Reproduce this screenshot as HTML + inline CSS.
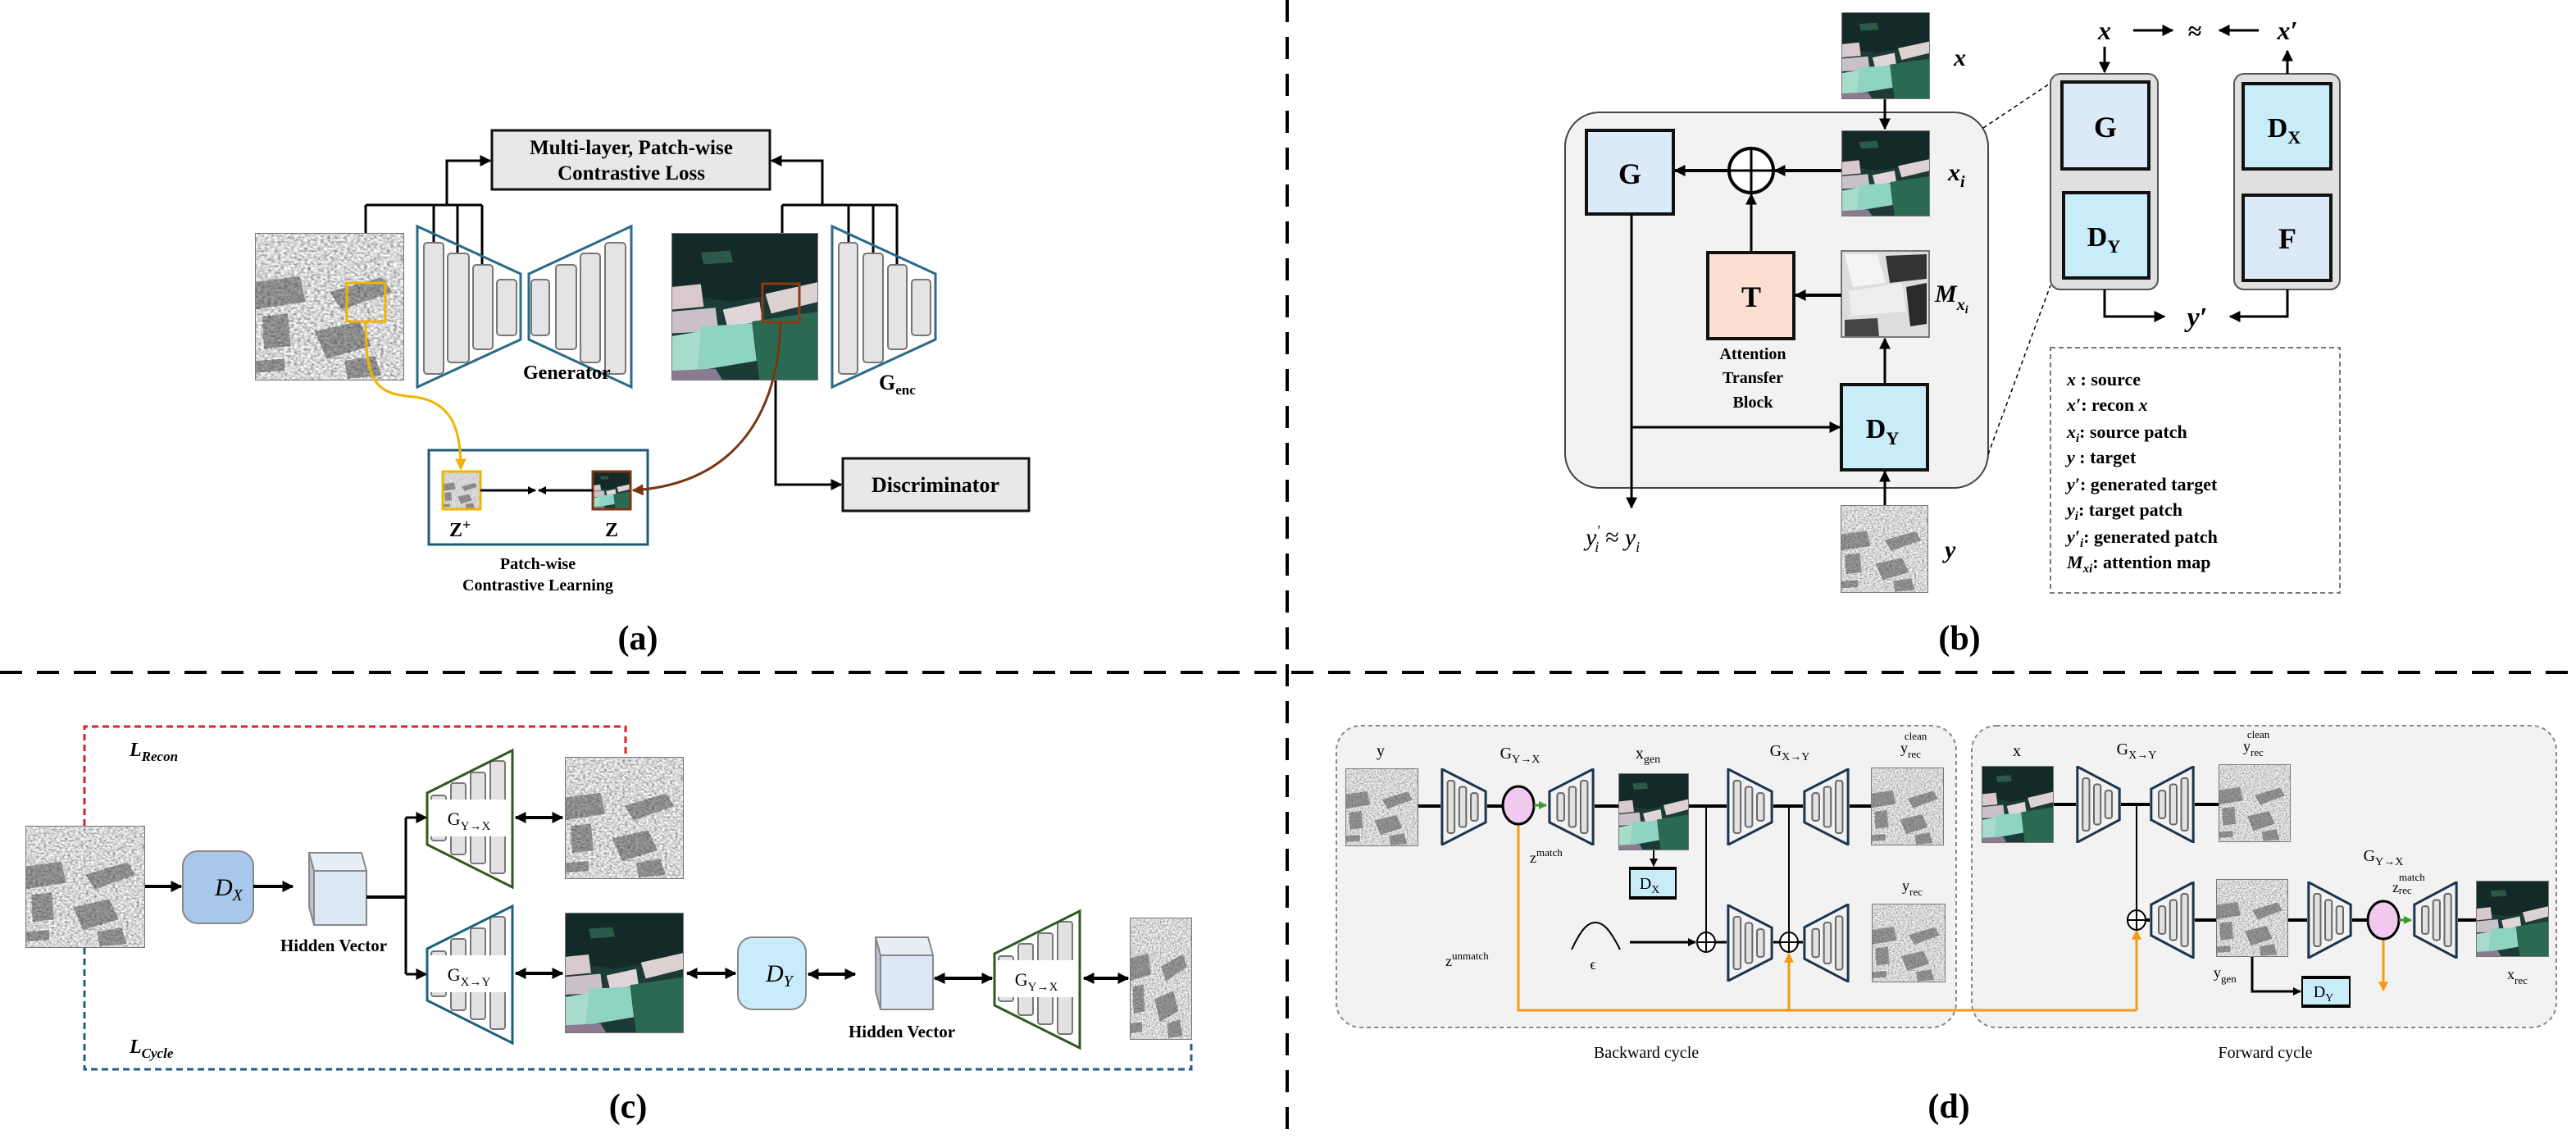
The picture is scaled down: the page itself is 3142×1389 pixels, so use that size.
<!DOCTYPE html>
<html><head><meta charset="utf-8"><style>
html,body{margin:0;padding:0;background:#fff}
svg{display:block}
text{font-family:"Liberation Serif",serif;fill:#000}
.b{font-weight:bold}
.i{font-style:italic}
</style></head><body>
<svg width="3142" height="1389" viewBox="0 0 3142 1389" xmlns="http://www.w3.org/2000/svg">
<defs>
<filter id="noise" x="0" y="0" width="1" height="1">
<feTurbulence type="fractalNoise" baseFrequency="0.45" numOctaves="2" seed="3" result="n"/>
<feColorMatrix type="matrix" values="1.35 0 0 0 0 1.35 0 0 0 0 1.35 0 0 0 0 0 0 0 0 1"/>
</filter>
<marker id="ah" viewBox="0 0 10 10" refX="9" refY="5" markerWidth="14" markerHeight="14" markerUnits="userSpaceOnUse" orient="auto-start-reverse"><path d="M0,0 L10,5 L0,10 z" fill="#000"/></marker>
<marker id="ahs" viewBox="0 0 10 10" refX="9" refY="5" markerWidth="10" markerHeight="10" markerUnits="userSpaceOnUse" orient="auto-start-reverse"><path d="M0,0 L10,5 L0,10 z" fill="#000"/></marker>
<marker id="aho" viewBox="0 0 10 10" refX="9" refY="5" markerWidth="12" markerHeight="12" markerUnits="userSpaceOnUse" orient="auto"><path d="M0,0 L10,5 L0,10 z" fill="#f39c12"/></marker>
<marker id="ahy" viewBox="0 0 10 10" refX="9" refY="5" markerWidth="14" markerHeight="14" markerUnits="userSpaceOnUse" orient="auto"><path d="M0,0 L10,5 L0,10 z" fill="#f0b400"/></marker>
<marker id="ahb" viewBox="0 0 10 10" refX="9" refY="5" markerWidth="14" markerHeight="14" markerUnits="userSpaceOnUse" orient="auto"><path d="M0,0 L10,5 L0,10 z" fill="#7a3510"/></marker>
<marker id="ahg" viewBox="0 0 10 10" refX="9" refY="5" markerWidth="10" markerHeight="10" markerUnits="userSpaceOnUse" orient="auto"><path d="M0,0 L10,5 L0,10 z" fill="#3a9a2a"/></marker>

<symbol id="sar" viewBox="0 0 100 150" preserveAspectRatio="none">
<rect width="100" height="150" fill="#999" filter="url(#noise)"/>
<g fill="#333" opacity="0.45">
<polygon points="0,50 30,44 34,70 0,78"/>
<polygon points="50,60 85,45 92,60 58,78"/>
<polygon points="5,85 22,82 24,115 6,118"/>
<polygon points="40,100 70,90 78,115 48,128"/>
<polygon points="0,130 20,128 20,140 0,142"/>
<polygon points="60,130 80,125 85,145 62,148"/>
</g>
<rect width="100" height="150" fill="none" stroke="#777" stroke-width="2" vector-effect="non-scaling-stroke"/>
</symbol>
<symbol id="opt" viewBox="0 0 100 150" preserveAspectRatio="none">
<rect width="100" height="150" fill="#1c3a36"/>
<polygon points="0,0 100,0 100,55 40,70 0,60" fill="#142a28"/>
<polygon points="0,55 20,52 22,75 0,78" fill="#d9c9cc"/>
<polygon points="0,80 30,76 32,100 0,102" fill="#c9c0c8"/>
<polygon points="35,78 60,70 62,90 38,95" fill="#e0d6d8"/>
<polygon points="64,62 100,50 100,70 68,82" fill="#ddd2d2"/>
<polygon points="20,95 55,92 58,130 18,140" fill="#8fd3c2"/>
<polygon points="0,105 20,100 18,140 0,142" fill="#a7dccc"/>
<polygon points="55,90 100,80 100,150 60,150" fill="#2a6a52"/>
<polygon points="20,20 40,18 42,30 22,32" fill="#2b5a48"/>
<polygon points="0,140 30,138 35,150 0,150" fill="#8c7a90"/>
<rect width="100" height="150" fill="none" stroke="#777" stroke-width="2" vector-effect="non-scaling-stroke"/>
</symbol>
<symbol id="encR" viewBox="0 0 60 100" preserveAspectRatio="none">
<polygon points="2,1 58,30 58,70 2,99" fill="none" stroke="#1a3550" stroke-width="3" vector-effect="non-scaling-stroke"/>
<rect x="9" y="16" width="9" height="68" rx="3" fill="#e2e2e2" stroke="#666" stroke-width="2" vector-effect="non-scaling-stroke"/>
<rect x="24" y="24" width="9" height="52" rx="3" fill="#e2e2e2" stroke="#666" stroke-width="2" vector-effect="non-scaling-stroke"/>
<rect x="39" y="32" width="9" height="36" rx="3" fill="#e2e2e2" stroke="#666" stroke-width="2" vector-effect="non-scaling-stroke"/>
</symbol>
<symbol id="decR" viewBox="0 0 60 100" preserveAspectRatio="none">
<g transform="translate(60,0) scale(-1,1)">
<polygon points="2,1 58,30 58,70 2,99" fill="none" stroke="#1a3550" stroke-width="3" vector-effect="non-scaling-stroke"/>
<rect x="9" y="16" width="9" height="68" rx="3" fill="#e2e2e2" stroke="#666" stroke-width="2" vector-effect="non-scaling-stroke"/>
<rect x="24" y="24" width="9" height="52" rx="3" fill="#e2e2e2" stroke="#666" stroke-width="2" vector-effect="non-scaling-stroke"/>
<rect x="39" y="32" width="9" height="36" rx="3" fill="#e2e2e2" stroke="#666" stroke-width="2" vector-effect="non-scaling-stroke"/>
</g>
</symbol>
<g id="ctrap">
<rect x="526" y="970" width="18" height="55" rx="3" fill="#e2e2e2" stroke="#777" stroke-width="2"/>
<rect x="550" y="955" width="18" height="87" rx="3" fill="#e2e2e2" stroke="#777" stroke-width="2"/>
<rect x="574" y="942" width="18" height="111" rx="3" fill="#e2e2e2" stroke="#777" stroke-width="2"/>
<rect x="598" y="928" width="18" height="137" rx="3" fill="#e2e2e2" stroke="#777" stroke-width="2"/>
<polygon points="521,967 625,915 625,1082 521,1030" fill="none" stroke="currentColor" stroke-width="3"/>
<rect x="524" y="975" width="96" height="45" fill="#fff"/>
</g>
<g id="cube">
<polygon points="0,0 64,0 70,22 6,22" fill="#e8eef6" stroke="#888" stroke-width="2"/>
<polygon points="0,0 6,22 6,88 0,66" fill="#b9c2cc" stroke="#888" stroke-width="2"/>
<rect x="6" y="22" width="64" height="66" fill="#dce8f5" stroke="#888" stroke-width="2"/>
</g>
</defs>

<!-- dividers -->
<line x1="1570" y1="0" x2="1570" y2="1389" stroke="#000" stroke-width="4" stroke-dasharray="27 18"/>
<line x1="0" y1="820" x2="3142" y2="820" stroke="#000" stroke-width="4" stroke-dasharray="27 18"/>

<!-- ============ (a) ============ -->
<rect x="600" y="159" width="339" height="72" fill="#e8e8e8" stroke="#111" stroke-width="3"/>
<text x="770" y="188" font-size="25" class="b" text-anchor="middle">Multi-layer, Patch-wise</text>
<text x="770" y="219" font-size="25" class="b" text-anchor="middle">Contrastive Loss</text>
<g stroke="#000" stroke-width="3" fill="none">
<polyline points="545,250 545,196 598,196" marker-end="url(#ah)"/>
<line x1="446" y1="250" x2="588" y2="250"/>
<line x1="446" y1="250" x2="446" y2="284"/>
<line x1="529" y1="250" x2="529" y2="296"/>
<line x1="558" y1="250" x2="558" y2="309"/>
<line x1="588" y1="250" x2="588" y2="323"/>
<polyline points="1003,250 1003,196 941,196" marker-end="url(#ah)"/>
<line x1="954" y1="250" x2="1094" y2="250"/>
<line x1="954" y1="250" x2="954" y2="284"/>
<line x1="1035" y1="250" x2="1035" y2="296"/>
<line x1="1065" y1="250" x2="1065" y2="309"/>
<line x1="1094" y1="250" x2="1094" y2="323"/>
</g>
<use href="#sar" x="311" y="284" width="182" height="180"/>
<rect x="423" y="345" width="47" height="47" fill="none" stroke="#f0b400" stroke-width="3"/>
<g fill="#e4e4e4" stroke="#777" stroke-width="2">
<rect x="517" y="296" width="24" height="160" rx="4"/>
<rect x="546" y="309" width="26" height="133" rx="4"/>
<rect x="577" y="323" width="24" height="103" rx="4"/>
<rect x="606" y="341" width="24" height="68" rx="4"/>
<rect x="648" y="341" width="22" height="68" rx="4"/>
<rect x="678" y="323" width="25" height="103" rx="4"/>
<rect x="708" y="309" width="24" height="133" rx="4"/>
<rect x="738" y="296" width="25" height="160" rx="4"/>
<rect x="1023" y="296" width="23" height="160" rx="4"/>
<rect x="1053" y="309" width="24" height="133" rx="4"/>
<rect x="1083" y="323" width="23" height="103" rx="4"/>
<rect x="1112" y="341" width="23" height="68" rx="4"/>
</g>
<g fill="none" stroke="#2a6a8a" stroke-width="3">
<polygon points="509,276 635,334 635,414 509,472"/>
<polygon points="770,276 645,334 645,414 770,472"/>
<polygon points="1015,276 1141,334 1141,414 1015,472"/>
</g>
<text x="638" y="462" font-size="24" class="b">Generator</text>
<text x="1072" y="475" font-size="26" class="b">G<tspan font-size="17" dy="6">enc</tspan></text>
<use href="#opt" x="819" y="284" width="179" height="180"/>
<rect x="930" y="346" width="45" height="47" fill="none" stroke="#8a3a12" stroke-width="3"/>
<polyline points="946,464 946,591 1026,591" fill="none" stroke="#000" stroke-width="3" marker-end="url(#ah)"/>
<rect x="1028" y="559" width="227" height="64" fill="#e8e8e8" stroke="#111" stroke-width="3"/>
<text x="1141" y="600" font-size="26" class="b" text-anchor="middle">Discriminator</text>
<rect x="523" y="549" width="267" height="115" fill="#fff" stroke="#1f5b73" stroke-width="3"/>
<use href="#sar" x="540" y="575" width="46" height="46"/>
<rect x="540" y="575" width="46" height="46" fill="none" stroke="#f0b400" stroke-width="3"/>
<use href="#opt" x="723" y="575" width="46" height="46"/>
<rect x="723" y="575" width="46" height="46" fill="none" stroke="#7a3510" stroke-width="3"/>
<line x1="586" y1="598" x2="653" y2="598" stroke="#000" stroke-width="3" marker-end="url(#ahs)"/>
<line x1="723" y1="598" x2="657" y2="598" stroke="#000" stroke-width="3" marker-end="url(#ahs)"/>
<text x="548" y="654" font-size="24" class="b">Z<tspan dy="-8" font-size="18">+</tspan></text>
<text x="738" y="654" font-size="24" class="b">Z</text>
<text x="656" y="694" font-size="20" class="b" text-anchor="middle">Patch-wise</text>
<text x="656" y="720" font-size="20" class="b" text-anchor="middle">Contrastive Learning</text>
<path d="M446,392 C446,470 460,480 505,484 C555,490 562,530 562,572" fill="none" stroke="#f0b400" stroke-width="3" marker-end="url(#ahy)"/>
<path d="M952,393 C950,500 900,590 772,598" fill="none" stroke="#7a3510" stroke-width="3" marker-end="url(#ahb)"/>
<text x="778" y="792" font-size="42" class="b" text-anchor="middle">(a)</text>

<!-- ============ (b) ============ -->
<rect x="1909" y="137" width="516" height="458" rx="42" fill="#f2f2f2" stroke="#444" stroke-width="2"/>
<use href="#opt" x="2246" y="15" width="108" height="106"/>
<text x="2383" y="80" font-size="30" class="b i">x</text>
<line x1="2299" y1="121" x2="2299" y2="157" stroke="#000" stroke-width="3" marker-end="url(#ah)"/>
<rect x="1935" y="159" width="106" height="102" fill="#dce9f7" stroke="#111" stroke-width="4"/>
<text x="1988" y="224" font-size="36" class="b" text-anchor="middle">G</text>
<use href="#opt" x="2246" y="159" width="108" height="105"/>
<text x="2376" y="220" font-size="30" class="b i">x<tspan font-size="20" dy="8">i</tspan></text>
<circle cx="2136" cy="208" r="27" fill="#fff" stroke="#000" stroke-width="4"/>
<line x1="2109" y1="208" x2="2163" y2="208" stroke="#000" stroke-width="3"/>
<line x1="2136" y1="181" x2="2136" y2="235" stroke="#000" stroke-width="3"/>
<line x1="2246" y1="208" x2="2165" y2="208" stroke="#000" stroke-width="4" marker-end="url(#ah)"/>
<line x1="2108" y1="208" x2="2043" y2="208" stroke="#000" stroke-width="4" marker-end="url(#ah)"/>
<rect x="2083" y="308" width="105" height="105" fill="#fbe0d2" stroke="#111" stroke-width="4"/>
<text x="2136" y="374" font-size="36" class="b" text-anchor="middle">T</text>
<line x1="2136" y1="308" x2="2136" y2="237" stroke="#000" stroke-width="3" marker-end="url(#ah)"/>
<g>
<rect x="2246" y="306" width="107" height="105" fill="#ddd" stroke="#777" stroke-width="2"/>
<polygon points="2250,310 2290,310 2300,345 2260,350" fill="#f4f4f4"/>
<polygon points="2300,312 2350,310 2350,340 2305,345" fill="#333"/>
<polygon points="2255,355 2320,345 2325,380 2258,385" fill="#eee"/>
<polygon points="2325,350 2350,345 2350,395 2330,398" fill="#2a2a2a"/>
<polygon points="2250,390 2290,388 2292,410 2250,410" fill="#444"/>
</g>
<text x="2360" y="368" font-size="30" class="b i">M<tspan font-size="20" dy="10">x<tspan font-size="14" dy="4">i</tspan></tspan></text>
<line x1="2246" y1="360" x2="2190" y2="360" stroke="#000" stroke-width="4" marker-end="url(#ah)"/>
<text x="2138" y="438" font-size="20" class="b" text-anchor="middle">Attention</text>
<text x="2138" y="467" font-size="20" class="b" text-anchor="middle">Transfer</text>
<text x="2138" y="497" font-size="20" class="b" text-anchor="middle">Block</text>
<rect x="2246" y="469" width="105" height="104" fill="#c9ecf9" stroke="#111" stroke-width="4"/>
<text x="2296" y="534" font-size="34" class="b" text-anchor="middle">D<tspan font-size="22" dy="8">Y</tspan></text>
<line x1="2299" y1="469" x2="2299" y2="413" stroke="#000" stroke-width="3" marker-end="url(#ah)"/>
<polyline points="1990,261 1990,619" fill="none" stroke="#000" stroke-width="3" marker-end="url(#ah)"/>
<line x1="1990" y1="521" x2="2244" y2="521" stroke="#000" stroke-width="3" marker-end="url(#ah)"/>
<use href="#sar" x="2245" y="616" width="107" height="107"/>
<line x1="2299" y1="616" x2="2299" y2="575" stroke="#000" stroke-width="3" marker-end="url(#ah)"/>
<text x="2372" y="680" font-size="30" class="b i">y</text>
<text x="1934" y="665" font-size="30" class="i">y<tspan font-size="18" dy="-12">′</tspan><tspan font-size="18" dy="20" dx="-6">i</tspan><tspan dy="-8"> ≈ y</tspan><tspan font-size="18" dy="8">i</tspan></text>

<line x1="2419" y1="156" x2="2503" y2="100" stroke="#000" stroke-width="1.5" stroke-dasharray="5 4"/>
<line x1="2425" y1="554" x2="2501" y2="348" stroke="#000" stroke-width="1.5" stroke-dasharray="5 4"/>
<rect x="2501" y="90" width="131" height="263" rx="12" fill="#e0e0e0" stroke="#555" stroke-width="2"/>
<rect x="2515" y="100" width="106" height="106" fill="#dce9f7" stroke="#111" stroke-width="4"/>
<text x="2568" y="167" font-size="36" class="b" text-anchor="middle">G</text>
<rect x="2517" y="235" width="104" height="104" fill="#c9ecf9" stroke="#111" stroke-width="4"/>
<text x="2566" y="300" font-size="34" class="b" text-anchor="middle">D<tspan font-size="22" dy="8">Y</tspan></text>
<rect x="2725" y="90" width="129" height="263" rx="12" fill="#e0e0e0" stroke="#555" stroke-width="2"/>
<rect x="2736" y="102" width="107" height="104" fill="#c9ecf9" stroke="#111" stroke-width="4"/>
<text x="2786" y="167" font-size="34" class="b" text-anchor="middle">D<tspan font-size="22" dy="8">X</tspan></text>
<rect x="2736" y="238" width="107" height="104" fill="#dce9f7" stroke="#111" stroke-width="4"/>
<text x="2790" y="303" font-size="36" class="b" text-anchor="middle">F</text>
<text x="2567" y="48" font-size="32" class="b i" text-anchor="middle">x</text>
<text x="2677" y="48" font-size="30" class="b" text-anchor="middle">≈</text>
<text x="2790" y="48" font-size="32" class="b i" text-anchor="middle">x′</text>
<line x1="2602" y1="37" x2="2650" y2="37" stroke="#000" stroke-width="3" marker-end="url(#ah)"/>
<line x1="2755" y1="37" x2="2707" y2="37" stroke="#000" stroke-width="3" marker-end="url(#ah)"/>
<line x1="2567" y1="57" x2="2567" y2="88" stroke="#000" stroke-width="3" marker-end="url(#ah)"/>
<line x1="2790" y1="90" x2="2790" y2="62" stroke="#000" stroke-width="3" marker-end="url(#ah)"/>
<polyline points="2567,353 2567,386 2640,386" fill="none" stroke="#000" stroke-width="3" marker-end="url(#ah)"/>
<polyline points="2790,353 2790,386 2720,386" fill="none" stroke="#000" stroke-width="3" marker-end="url(#ah)"/>
<text x="2680" y="398" font-size="34" class="b i" text-anchor="middle">y′</text>
<rect x="2501" y="424" width="353" height="299" fill="#fff" stroke="#777" stroke-width="2" stroke-dasharray="6 4"/>
<g font-size="22" class="b">
<text x="2521" y="470"><tspan class="i">x</tspan> : source</text>
<text x="2521" y="501"><tspan class="i">x′</tspan>: recon <tspan class="i">x</tspan></text>
<text x="2521" y="534"><tspan class="i">x<tspan font-size="15" dy="5">i</tspan></tspan><tspan dy="-5">: source patch</tspan></text>
<text x="2521" y="565"><tspan class="i">y</tspan> : target</text>
<text x="2521" y="598"><tspan class="i">y′</tspan>: generated target</text>
<text x="2521" y="629"><tspan class="i">y<tspan font-size="15" dy="5">i</tspan></tspan><tspan dy="-5">: target patch</tspan></text>
<text x="2521" y="662"><tspan class="i">y′<tspan font-size="15" dy="5">i</tspan></tspan><tspan dy="-5">: generated patch</tspan></text>
<text x="2521" y="693"><tspan class="i">M<tspan font-size="15" dy="5">xi</tspan></tspan><tspan dy="-5">: attention map</tspan></text>
</g>
<text x="2390" y="792" font-size="42" class="b" text-anchor="middle">(b)</text>

<!-- ============ (c) ============ -->
<polyline points="103,1007 103,886 763,886 763,923" fill="none" stroke="#e02020" stroke-width="3" stroke-dasharray="8 5"/>
<polyline points="103,1156 103,1304 1453,1304 1453,1268" fill="none" stroke="#1f5f7f" stroke-width="3" stroke-dasharray="8 5"/>
<text x="158" y="922" font-size="24" class="b i">L<tspan font-size="17" dy="6">Recon</tspan></text>
<text x="158" y="1284" font-size="24" class="b i">L<tspan font-size="17" dy="6">Cycle</tspan></text>
<use href="#sar" x="31" y="1007" width="146" height="149"/>
<rect x="223" y="1038" width="86" height="88" rx="18" fill="#a7c8ea" stroke="#888" stroke-width="2"/>
<text x="262" y="1092" font-size="30" class="i">D<tspan font-size="20" dy="6">X</tspan></text>
<line x1="177" y1="1081" x2="221" y2="1081" stroke="#000" stroke-width="4" marker-end="url(#ah)"/>
<line x1="309" y1="1081" x2="357" y2="1081" stroke="#000" stroke-width="4" marker-end="url(#ah)"/>
<use href="#cube" x="377" y="1040"/>
<text x="407" y="1160" font-size="21" class="b" text-anchor="middle">Hidden Vector</text>
<line x1="447" y1="1094" x2="495" y2="1094" stroke="#000" stroke-width="4"/>
<line x1="495" y1="997" x2="495" y2="1188" stroke="#000" stroke-width="3"/>
<line x1="495" y1="997" x2="520" y2="997" stroke="#000" stroke-width="3" marker-end="url(#ah)"/>
<line x1="495" y1="1188" x2="520" y2="1188" stroke="#000" stroke-width="3" marker-end="url(#ah)"/>
<use href="#ctrap" color="#2e5a1c"/>
<text x="572" y="1006" font-size="22" text-anchor="middle">G<tspan font-size="15" dy="6">Y→X</tspan></text>
<use href="#ctrap" color="#1f5f7f" transform="translate(0,190)"/>
<text x="572" y="1196" font-size="22" text-anchor="middle">G<tspan font-size="15" dy="6">X→Y</tspan></text>
<use href="#ctrap" color="#2e5a1c" transform="translate(692,196)"/>
<text x="1264" y="1202" font-size="22" text-anchor="middle">G<tspan font-size="15" dy="6">Y→X</tspan></text>
<g stroke="#000" stroke-width="4">
<line x1="629" y1="997" x2="686" y2="997" marker-start="url(#ah)" marker-end="url(#ah)"/>
<line x1="629" y1="1187" x2="686" y2="1187" marker-start="url(#ah)" marker-end="url(#ah)"/>
<line x1="838" y1="1187" x2="897" y2="1187" marker-start="url(#ah)" marker-end="url(#ah)"/>
<line x1="986" y1="1188" x2="1043" y2="1188" marker-start="url(#ah)" marker-end="url(#ah)"/>
<line x1="1140" y1="1193" x2="1210" y2="1193" marker-start="url(#ah)" marker-end="url(#ah)"/>
<line x1="1322" y1="1193" x2="1376" y2="1193" marker-start="url(#ah)" marker-end="url(#ah)"/>
</g>
<use href="#sar" x="689" y="923" width="145" height="149"/>
<use href="#opt" x="689" y="1113" width="145" height="147"/>
<rect x="900" y="1143" width="83" height="88" rx="18" fill="#c9ecfa" stroke="#888" stroke-width="2"/>
<text x="934" y="1197" font-size="30" class="i">D<tspan font-size="20" dy="6">Y</tspan></text>
<use href="#cube" x="1068" y="1143"/>
<text x="1100" y="1265" font-size="21" class="b" text-anchor="middle">Hidden Vector</text>
<use href="#sar" x="1378" y="1119" width="76" height="149"/>
<text x="766" y="1363" font-size="42" class="b" text-anchor="middle">(c)</text>

<!-- ============ (d) ============ -->
<rect x="1630" y="885" width="756" height="368" rx="30" fill="#f2f2f2" stroke="#888" stroke-width="2" stroke-dasharray="5 4"/>
<rect x="2405" y="885" width="713" height="368" rx="30" fill="#f2f2f2" stroke="#888" stroke-width="2" stroke-dasharray="5 4"/>
<text x="2008" y="1290" font-size="20" text-anchor="middle">Backward cycle</text>
<text x="2763" y="1290" font-size="20" text-anchor="middle">Forward cycle</text>
<polyline points="1852,1005 1852,1232 2606,1232" fill="none" stroke="#f39c12" stroke-width="3"/>
<line x1="2182" y1="1232" x2="2182" y2="1163" stroke="#f39c12" stroke-width="3" marker-end="url(#aho)"/>
<line x1="2606" y1="1232" x2="2606" y2="1135" stroke="#f39c12" stroke-width="3" marker-end="url(#aho)"/>
<line x1="2907" y1="1145" x2="2907" y2="1208" stroke="#f39c12" stroke-width="3" marker-end="url(#aho)"/>
<text x="1684" y="922" font-size="20" text-anchor="middle">y</text>
<use href="#sar" x="1641" y="937" width="89" height="95"/>
<g stroke="#000" stroke-width="4">
<line x1="1730" y1="983" x2="1757" y2="983"/>
<line x1="1814" y1="983" x2="1833" y2="983"/>
<line x1="1945" y1="983" x2="1974" y2="983"/>
<line x1="2060" y1="983" x2="2106" y2="983"/>
<line x1="2163" y1="983" x2="2199" y2="983"/>
<line x1="2256" y1="983" x2="2282" y2="983"/>
</g>
<use href="#encR" x="1757" y="937" width="57" height="94"/>
<ellipse cx="1852" cy="982" rx="19" ry="23" fill="#f2c9ee" stroke="#000" stroke-width="3"/>
<line x1="1871" y1="982" x2="1886" y2="982" stroke="#3a9a2a" stroke-width="3" marker-end="url(#ahg)"/>
<use href="#decR" x="1888" y="937" width="57" height="94"/>
<text x="1854" y="925" font-size="20" text-anchor="middle">G<tspan font-size="14" dy="5">Y→X</tspan></text>
<use href="#opt" x="1974" y="943" width="86" height="94"/>
<text x="2010" y="925" font-size="20" text-anchor="middle">x<tspan font-size="14" dy="5">gen</tspan></text>
<text x="1866" y="1052" font-size="18">z<tspan font-size="13" dy="-8">match</tspan></text>
<line x1="2017" y1="1037" x2="2017" y2="1056" stroke="#000" stroke-width="2" marker-end="url(#ahs)"/>
<rect x="1988" y="1058" width="56" height="38" fill="#c9ecf9" stroke="#000" stroke-width="2"/>
<line x1="1988" y1="1059" x2="2044" y2="1059" stroke="#000" stroke-width="4"/>
<line x1="1988" y1="1095" x2="2044" y2="1095" stroke="#000" stroke-width="4"/>
<text x="2012" y="1084" font-size="20" text-anchor="middle">D<tspan font-size="14" dy="5">X</tspan></text>
<use href="#encR" x="2106" y="937" width="57" height="94"/>
<use href="#decR" x="2199" y="937" width="57" height="94"/>
<text x="2183" y="922" font-size="20" text-anchor="middle">G<tspan font-size="14" dy="5">X→Y</tspan></text>
<use href="#sar" x="2282" y="936" width="89" height="95"/>
<text x="2318" y="918" font-size="18">y<tspan font-size="13" dy="6">rec</tspan><tspan font-size="13" dy="-22" dx="-20">clean</tspan></text>
<line x1="2081" y1="983" x2="2081" y2="1137" stroke="#000" stroke-width="2"/>
<line x1="2182" y1="983" x2="2182" y2="1137" stroke="#000" stroke-width="2"/>
<path d="M1917,1158 C1930,1130 1938,1125 1946,1125 C1954,1125 1962,1130 1976,1158" fill="none" stroke="#000" stroke-width="2"/>
<text x="1943" y="1182" font-size="18" text-anchor="middle">ϵ</text>
<text x="1763" y="1178" font-size="18">z<tspan font-size="13" dy="-8">unmatch</tspan></text>
<line x1="1988" y1="1149" x2="2068" y2="1149" stroke="#000" stroke-width="3" marker-end="url(#ahs)"/>
<use href="#encR" x="2106" y="1103" width="57" height="94"/>
<use href="#decR" x="2199" y="1102" width="57" height="96"/>
<line x1="2163" y1="1149" x2="2199" y2="1149" stroke="#000" stroke-width="3"/>
<line x1="2093" y1="1149" x2="2106" y2="1149" stroke="#000" stroke-width="3"/>
<g fill="#fff" stroke="#000" stroke-width="2">
<ellipse cx="2081" cy="1149" rx="11" ry="12"/>
<ellipse cx="2182" cy="1149" rx="11" ry="12"/>
<ellipse cx="2606" cy="1122" rx="11" ry="12"/>
</g>
<g stroke="#000" stroke-width="2">
<line x1="2070" y1="1149" x2="2092" y2="1149"/><line x1="2081" y1="1137" x2="2081" y2="1161"/>
<line x1="2171" y1="1149" x2="2193" y2="1149"/><line x1="2182" y1="1137" x2="2182" y2="1161"/>
<line x1="2595" y1="1122" x2="2617" y2="1122"/><line x1="2606" y1="1110" x2="2606" y2="1134"/>
</g>
<use href="#sar" x="2283" y="1102" width="90" height="96"/>
<text x="2320" y="1086" font-size="18">y<tspan font-size="13" dy="6">rec</tspan></text>
<text x="2460" y="922" font-size="20" text-anchor="middle">x</text>
<use href="#opt" x="2417" y="934" width="88" height="94"/>
<g stroke="#000" stroke-width="4">
<line x1="2505" y1="981" x2="2532" y2="981"/>
<line x1="2587" y1="981" x2="2622" y2="981"/>
<line x1="2677" y1="981" x2="2706" y2="981"/>
<line x1="2617" y1="1122" x2="2622" y2="1122"/>
<line x1="2677" y1="1122" x2="2703" y2="1122"/>
<line x1="2791" y1="1122" x2="2814" y2="1122"/>
<line x1="2869" y1="1122" x2="2888" y2="1122"/>
<line x1="2998" y1="1122" x2="3020" y2="1122"/>
</g>
<use href="#encR" x="2532" y="934" width="55" height="94"/>
<use href="#decR" x="2622" y="934" width="55" height="94"/>
<line x1="2606" y1="981" x2="2606" y2="1110" stroke="#000" stroke-width="2"/>
<text x="2606" y="920" font-size="20" text-anchor="middle">G<tspan font-size="14" dy="5">X→Y</tspan></text>
<use href="#sar" x="2706" y="932" width="88" height="95"/>
<text x="2736" y="916" font-size="18">y<tspan font-size="13" dy="6">rec</tspan><tspan font-size="13" dy="-22" dx="-20">clean</tspan></text>
<use href="#decR" x="2622" y="1075" width="55" height="94"/>
<use href="#sar" x="2703" y="1072" width="88" height="95"/>
<use href="#encR" x="2814" y="1075" width="55" height="94"/>
<ellipse cx="2907" cy="1122" rx="19" ry="23" fill="#f2c9ee" stroke="#000" stroke-width="3"/>
<line x1="2926" y1="1122" x2="2941" y2="1122" stroke="#3a9a2a" stroke-width="3" marker-end="url(#ahg)"/>
<use href="#decR" x="2943" y="1075" width="55" height="94"/>
<use href="#opt" x="3020" y="1074" width="89" height="93"/>
<text x="2907" y="1050" font-size="20" text-anchor="middle">G<tspan font-size="14" dy="5">Y→X</tspan></text>
<text x="2918" y="1088" font-size="18">z<tspan font-size="13" dy="-14">match</tspan><tspan font-size="13" dy="16" dx="-32">rec</tspan></text>
<text x="2700" y="1192" font-size="18">y<tspan font-size="13" dy="6">gen</tspan></text>
<polyline points="2747,1167 2747,1209 2806,1209" fill="none" stroke="#000" stroke-width="3" marker-end="url(#ahs)"/>
<rect x="2808" y="1191" width="58" height="37" fill="#c9ecf9" stroke="#000" stroke-width="2"/>
<line x1="2808" y1="1192" x2="2866" y2="1192" stroke="#000" stroke-width="4"/>
<line x1="2808" y1="1227" x2="2866" y2="1227" stroke="#000" stroke-width="4"/>
<text x="2834" y="1216" font-size="20" text-anchor="middle">D<tspan font-size="14" dy="5">Y</tspan></text>
<text x="3058" y="1194" font-size="18">x<tspan font-size="13" dy="6">rec</tspan></text>
<text x="2377" y="1363" font-size="42" class="b" text-anchor="middle">(d)</text>
</svg>
</body></html>
